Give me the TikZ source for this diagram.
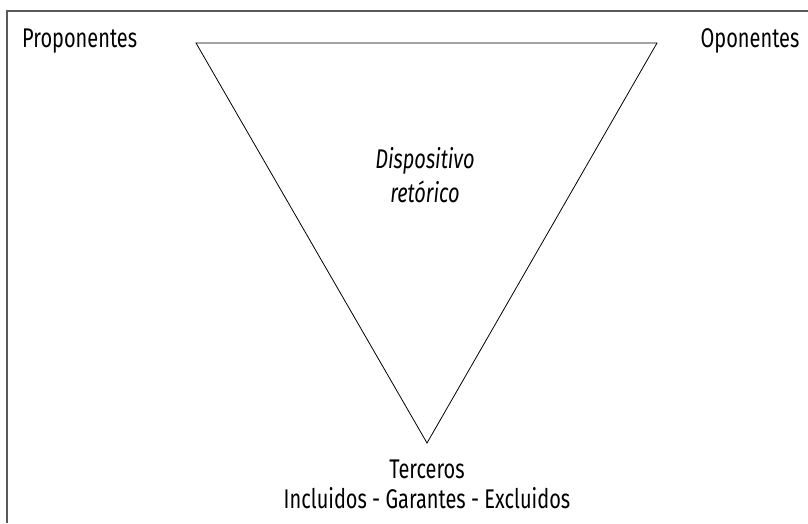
\documentclass[tikz,border=0pt]{standalone}
\usepackage{fontspec}
\setmainfont{Fira Sans}[FakeStretch=0.74]
\begin{document}
\begin{tikzpicture}[x=1pt,y=-1pt,
    label/.style={inner sep=0pt,font=\fontsize{27}{30}\selectfont},
    centred/.style={label,align=center}]
      \useasboundingbox (0,0) rectangle (808,523);
      \draw[line width=1.5pt,color=black!65] (808,11) -- (7,11) -- (7,523);
      \coordinate (tl) at (196,43);
      \coordinate (tr) at (657,43);
      \coordinate (bt) at (427,443);
      \draw[line width=0.8pt] (tl) -- (tr) -- (bt) -- cycle;
      \node[label,anchor=base west] (prop) at (22,47) {Proponentes};
      \node[label,anchor=base] (opon) at (750,47) {Oponentes};
      \node[centred,font=\fontsize{27}{34}\selectfont\itshape] (disp) at (425,175) {Dispositivo\\ret\'orico};
      \node[centred] (terc) at (427,484) {Terceros\\Incluidos - Garantes - Excluidos};
    \end{tikzpicture}
\end{document}
